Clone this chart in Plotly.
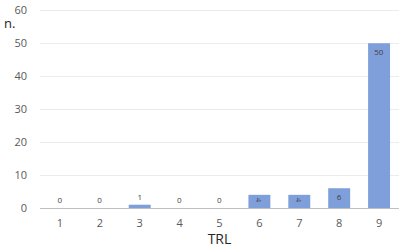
import plotly.graph_objects as go

categories = ["1", "2", "3", "4", "5", "6", "7", "8", "9"]
values = [0, 0, 1, 0, 0, 4, 4, 6, 50]
y_ticks = [0, 10, 20, 30, 40, 50, 60]

positions = ["outside" if v < 2 else "inside" for v in values]

fig = go.Figure(go.Bar(
    x=categories, y=values,
    marker=dict(color="#7f9fdb", line=dict(width=0)),
    text=[str(v) for v in values],
    textposition=positions,
    insidetextanchor="end",
    textfont=dict(size=8, color="#404040", family="Open Sans"),
    cliponaxis=False,
))

fig.update_layout(
    width=401, height=248,
    margin=dict(l=40, r=2, t=4, b=40),
    paper_bgcolor="white", plot_bgcolor="white",
    bargap=0.45,
    showlegend=False,
    font=dict(family="Open Sans", color="#595959"),
    xaxis=dict(
        type="category",
        tickfont=dict(size=11, color="#595959"),
        showgrid=False, showline=True, linecolor="#bfbfbf", linewidth=1,
        ticks="", ticklabelstandoff=5,
        title=dict(text="TRL", font=dict(size=14, color="#262626"), standoff=3),
    ),
    yaxis=dict(
        range=[0, 60.4], tickvals=y_ticks,
        tickfont=dict(size=11, color="#595959"),
        showgrid=True, gridcolor="#ececec", gridwidth=1,
        zeroline=False, ticks="", ticklabelstandoff=12,
        ticklabeloverflow="allow",
    ),
    annotations=[dict(
        text="n.", xref="paper", yref="paper", x=-0.105, y=0.93,
        xanchor="left", yanchor="middle", showarrow=False,
        font=dict(size=13, color="#262626", family="Open Sans"),
    )],
)

fig.write_html("out.html", config={"displayModeBar": False},
               post_script="document.body.style.margin='0';document.body.style.overflow='hidden';")
